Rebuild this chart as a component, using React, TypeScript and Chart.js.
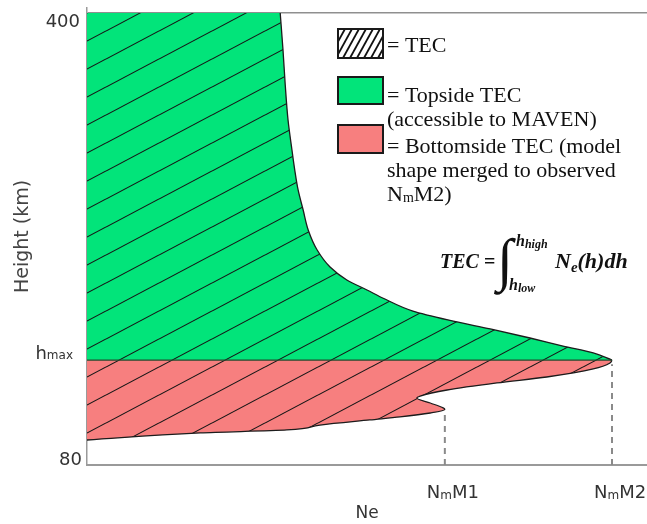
import React, { useEffect, useRef } from 'react';
import { Chart, registerables } from 'chart.js';

Chart.register(...registerables);

// ---------- data ----------
const HMAX = 154.3;
const NMM1 = 63.9;
const NMM2 = 93.75;
const NMM1_HEIGHT = 119.3;

// topside profile (height km, Ne arbitrary units)
const topsideHeight = [154.3, 159.3, 164.2, 169.9, 176.3, 181.9, 189.0, 197.5, 203.9, 211.0, 220.2, 232.2, 246.4, 260.5, 274.7, 288.8, 303.0, 324.2, 349.0, 373.8, 400];
const topsideNe = [93.75, 90.4, 85.0, 79.1, 72.0, 65.4, 58.2, 53.2, 50.0, 46.4, 43.4, 41.1, 39.5, 38.6, 37.7, 37.1, 36.6, 35.9, 35.4, 35.0, 34.5];

// bottomside profile
const bottomsideHeight = [97.7, 102.7, 104.8, 108.3, 111.9, 114.0, 116.8, 119.3, 120.4, 123.9, 127.4, 128.8, 133.1, 138.1, 142.3, 148.0, 152.2, 154.3];
const bottomsideNe = [0, 20.2, 35.7, 41.6, 50.5, 55.9, 61.3, 63.9, 63.6, 61.3, 58.9, 59.5, 64.3, 73.2, 82.1, 90.4, 93.4, 93.75];

const yTickValues = [80, HMAX, 400];
const xTickValues = [NMM1, NMM2];
const xTickSuffix = ['M1', 'M2'];

const legendLines = ['= TEC', '= Topside TEC', '(accessible to MAVEN)', '= Bottomside TEC (model', 'shape merged to observed'];

const GREEN = '#02E47A';
const RED = '#F77F7F';
const SANS = '"DejaVu Sans"';
const SERIF = '"Liberation Serif"';

type Run = { t: string; font: string; dy?: number };

function runsWidth(ctx: CanvasRenderingContext2D, runs: Run[]) {
  let w = 0;
  for (const r of runs) {
    ctx.font = r.font;
    w += ctx.measureText(r.t).width;
  }
  return w;
}

function drawRuns(ctx: CanvasRenderingContext2D, x: number, y: number, runs: Run[]) {
  let cx = x;
  for (const r of runs) {
    ctx.font = r.font;
    ctx.fillText(r.t, cx, y + (r.dy || 0));
    cx += ctx.measureText(r.t).width;
  }
  return cx;
}

function makeHatch(color: string): CanvasPattern {
  const W = 53, H = 28;
  const c = document.createElement('canvas');
  c.width = W;
  c.height = H;
  const g = c.getContext('2d')!;
  g.fillStyle = color;
  g.fillRect(0, 0, W, H);
  g.strokeStyle = '#161616';
  g.lineWidth = 1.1;
  for (let k = -1; k <= 3; k++) {
    g.beginPath();
    g.moveTo(-W, k * H + H);
    g.lineTo(2 * W, k * H - 2 * H);
    g.stroke();
  }
  const p = g.createPattern(c, 'repeat')!;
  p.setTransform(new DOMMatrix().translate(0, 3));
  return p;
}

const overlay = {
  id: 'overlay',
  afterDraw(chart: any) {
    const ctx: CanvasRenderingContext2D = chart.ctx;
    const xs = chart.scales.x;
    const ys = chart.scales.y;
    ctx.save();
    ctx.textBaseline = 'alphabetic';

    // y tick labels
    ctx.fillStyle = '#333';
    ctx.textAlign = 'left';
    const yl: { v: number; runs: Run[]; right: number; dy: number }[] = [
      { v: yTickValues[2], runs: [{ t: '400', font: `18px ${SANS}` }], right: 80, dy: 14 },
      { v: yTickValues[1], runs: [{ t: 'h', font: `18px ${SANS}` }, { t: 'max', font: `12px ${SANS}`, dy: 0 }], right: 73, dy: -1 },
      { v: yTickValues[0], runs: [{ t: '80', font: `18px ${SANS}` }], right: 82, dy: 0 },
    ];
    for (const l of yl) {
      const w = runsWidth(ctx, l.runs);
      drawRuns(ctx, l.right - w, ys.getPixelForValue(l.v) + l.dy, l.runs);
    }

    // x tick labels
    xTickValues.forEach((v, i) => {
      const runs: Run[] = [
        { t: 'N', font: `18px ${SANS}` },
        { t: 'm', font: `12px ${SANS}`, dy: 1 },
        { t: xTickSuffix[i], font: `18px ${SANS}` },
      ];
      drawRuns(ctx, xs.getPixelForValue(v) - 18, 498, runs);
    });

    // legend boxes
    const bx = 338, bw = 45;
    const boxes = [
      { y: 29, h: 29, fill: '#ffffff', hatch: true },
      { y: 77, h: 27, fill: GREEN, hatch: false },
      { y: 125, h: 28, fill: RED, hatch: false },
    ];
    for (const b of boxes) {
      ctx.fillStyle = b.fill;
      ctx.fillRect(bx, b.y, bw, b.h);
      if (b.hatch) {
        ctx.save();
        ctx.beginPath();
        ctx.rect(bx, b.y, bw, b.h);
        ctx.clip();
        ctx.strokeStyle = '#111';
        ctx.lineWidth = 1.8;
        for (let c = -30; c < bw + 10; c += 7) {
          ctx.beginPath();
          ctx.moveTo(bx + c, b.y + b.h);
          ctx.lineTo(bx + c + b.h * 0.55, b.y);
          ctx.stroke();
        }
        ctx.restore();
      }
      ctx.strokeStyle = '#1a1a1a';
      ctx.lineWidth = 2;
      ctx.strokeRect(bx, b.y, bw, b.h);
    }

    // legend text
    ctx.fillStyle = '#111';
    const lf = `22px ${SERIF}`;
    const baselines = [52, 102, 126, 153, 177];
    legendLines.forEach((t, i) => {
      drawRuns(ctx, 387, baselines[i], [{ t, font: lf }]);
    });
    drawRuns(ctx, 387, 201, [
      { t: 'N', font: lf },
      { t: 'm', font: `14px ${SERIF}`, dy: 1 },
      { t: 'M2)', font: lf },
    ]);

    // formula
    const bi = (s: number) => `bold italic ${s}px ${SERIF}`;
    drawRuns(ctx, 440, 268, [{ t: 'TEC', font: bi(20) }, { t: ' = ', font: `bold 20px ${SERIF}` }]);
    ctx.font = `italic 58px ${SERIF}`;
    ctx.fillText('\u222B', 497, 279);
    drawRuns(ctx, 516, 246, [{ t: 'h', font: bi(16) }, { t: 'high', font: bi(12), dy: 2 }]);
    drawRuns(ctx, 509, 290, [{ t: 'h', font: bi(16) }, { t: 'low', font: bi(12), dy: 2 }]);
    drawRuns(ctx, 555, 268, [
      { t: 'N', font: bi(22) },
      { t: 'e', font: bi(15), dy: 4 },
      { t: '(h)dh', font: bi(22) },
    ]);

    ctx.restore();
  },
};

export default function App() {
  const ref = useRef<HTMLCanvasElement>(null);
  useEffect(() => {
    document.body.style.margin = '0';
    const canvas = ref.current!;
    const greenPat = makeHatch(GREEN);
    const redPat = makeHatch(RED);
    const chart = new Chart(canvas, {
      type: 'line',
      data: {
        datasets: [
          {
            data: [{ x: 0, y: HMAX }, { x: NMM2, y: HMAX }],
            borderColor: '#224a2e',
            borderWidth: 1.2,
            tension: 0,
            fill: false,
            pointRadius: 0,
          },
          {
            data: topsideHeight.map((h, i) => ({ x: topsideNe[i], y: h })),
            borderColor: '#1c1c1c',
            borderWidth: 1.3,
            backgroundColor: greenPat,
            fill: 'origin',
            pointRadius: 0,
            cubicInterpolationMode: 'monotone',
          },
          {
            data: bottomsideHeight.map((h, i) => ({ x: bottomsideNe[i], y: h })),
            borderColor: '#1c1c1c',
            borderWidth: 1.3,
            backgroundColor: redPat,
            fill: 'origin',
            pointRadius: 0,
            cubicInterpolationMode: 'monotone',
          },
          {
            data: [{ x: NMM1, y: 80 }, { x: NMM1, y: NMM1_HEIGHT - 3 }],
            borderColor: '#8a8a8a',
            borderWidth: 2,
            borderDash: [6, 5],
            tension: 0,
            fill: false,
            pointRadius: 0,
          },
          {
            data: [{ x: NMM2, y: 80 }, { x: NMM2, y: HMAX - 3 }],
            borderColor: '#8a8a8a',
            borderWidth: 2,
            borderDash: [6, 5],
            tension: 0,
            fill: false,
            pointRadius: 0,
          },
        ],
      } as any,
      options: {
        indexAxis: 'y',
        animation: false,
        responsive: false,
        layout: { padding: { top: 8, left: 0, right: 0, bottom: 0 } },
        plugins: { legend: { display: false }, tooltip: { enabled: false }, title: { display: false } },
        elements: { point: { radius: 0 } },
        scales: {
          x: {
            type: 'linear',
            min: 0,
            max: 100,
            position: 'bottom',
            grid: { display: false, drawTicks: false },
            border: { display: true, color: '#9a9a9a', width: 2 },
            ticks: { display: false },
            title: { display: true, text: 'Ne', font: { family: 'DejaVu Sans', size: 17 }, color: '#333', padding: { top: 0, bottom: 0 } },
            afterFit: (s: any) => { s.height = 59; },
            afterBuildTicks: (s: any) => { s.ticks = xTickValues.map((v) => ({ value: v })); },
          },
          y: {
            type: 'linear',
            min: 80,
            max: 403.5,
            grid: {
              drawTicks: false,
              color: (c: any) => (c.tick && c.tick.value === 400 ? '#8f8f8f' : 'rgba(0,0,0,0)'),
              lineWidth: 1.5,
            },
            border: { display: true, color: '#9a9a9a', width: 1.5 },
            ticks: { display: false },
            title: { display: true, text: 'Height (km)', font: { family: 'DejaVu Sans', size: 19 }, color: '#444', padding: { top: 12, bottom: 0 } },
            afterFit: (s: any) => { s.width = 87; },
            afterBuildTicks: (s: any) => { s.ticks = yTickValues.map((v) => ({ value: v })); },
          },
        },
      } as any,
      plugins: [overlay],
    });
    return () => chart.destroy();
  }, []);
  return (
    <div style={{ width: 647, height: 524 }}>
      <canvas ref={ref} width={647} height={524} style={{ display: 'block', width: 647, height: 524 }} />
    </div>
  );
}
